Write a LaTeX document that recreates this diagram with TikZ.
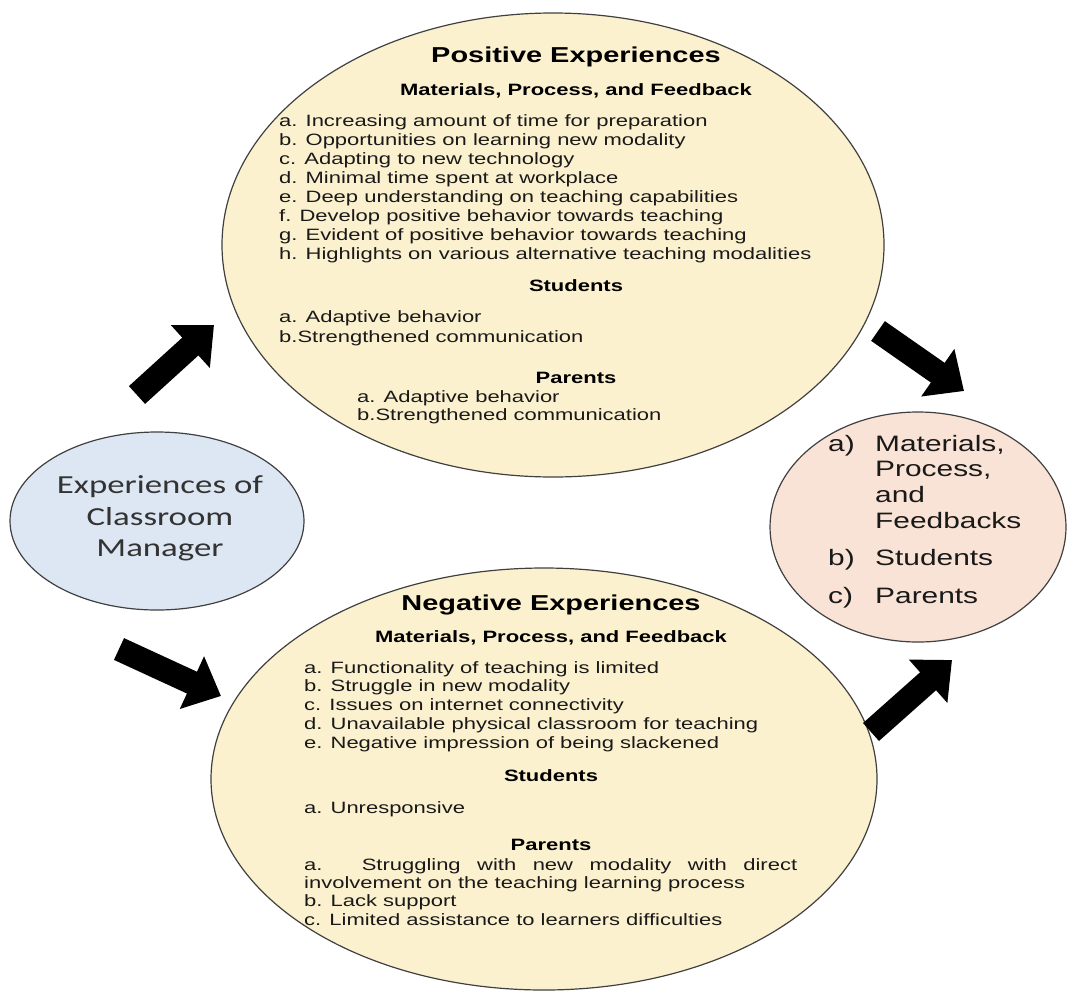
\documentclass[tikz,border=0pt]{standalone}
\usepackage{fontspec}
\setmainfont{Liberation Sans}[FakeStretch=1.34]
\newfontfamily\calfont{Carlito}[FakeStretch=1.34]
\usepackage{xcolor}
\usetikzlibrary{shapes.geometric,arrows.meta,positioning}

\definecolor{expfill}{RGB}{252,241,207}
\definecolor{mgrfill}{RGB}{221,231,243}
\definecolor{sumfill}{RGB}{249,227,214}

\begin{document}
\begin{tikzpicture}[
    x=1pt, y=-1pt,
    % Styles
    bubble/.style={
        ellipse,
        draw=black!75,
        line width=1.2pt,
        inner sep=0pt
    },
    title/.style={font=\fontsize{21.6}{26}\selectfont\bfseries, anchor=base, inner sep=0pt, text=black},
    heading/.style={font=\fontsize{16.4}{19}\selectfont\bfseries, anchor=base, inner sep=0pt, text=black},
    item/.style={font=\fontsize{16.4}{19}\selectfont, anchor=base west, inner sep=0pt, text=black!90},
    mgrline/.style={font=\calfont\fontsize{26}{31.5}\selectfont, anchor=base, inner sep=0pt, text=black!80},
    sumline/.style={font=\fontsize{22.3}{25.5}\selectfont, anchor=base west, inner sep=0pt, text=black!90},
    % Line Styles
    fat/.style={draw=black, line width=24pt, -{Triangle[length=32pt,width=56pt]}}
]
\useasboundingbox (0,0) rectangle (1067,991);

% --- Bubbles ---
\node[bubble, fill=expfill, minimum width=662pt, minimum height=464pt] (pos) at (553,245) {};
\node[bubble, fill=expfill, minimum width=666pt, minimum height=422pt] (neg) at (544,779) {};
\node[bubble, fill=mgrfill, minimum width=294pt, minimum height=178pt] (mgr) at (157,521) {};
\node[bubble, fill=sumfill, minimum width=296pt, minimum height=230pt] (sum) at (918,527) {};

% --- Arrows ---
\coordinate (a1s) at (137,395);
\coordinate (a1e) at (214,325);
\coordinate (a2s) at (878,331);
\coordinate (a2e) at (964,391);
\coordinate (a3s) at (119,649);
\coordinate (a3e) at (221,696);
\coordinate (a4s) at (871,732);
\coordinate (a4e) at (952,660);
\draw[fat] (a1s) -- (a1e);
\draw[fat] (a2s) -- (a2e);
\draw[fat] (a3s) -- (a3e);
\draw[fat] (a4s) -- (a4e);

% --- Classroom manager ---
\node[mgrline] (mgr1) at (160,493) {Experiences of};
\node[mgrline] (mgr2) at (160,525) {Classroom};
\node[mgrline] (mgr3) at (160,556) {Manager};

% --- Positive experiences ---
\node[title] (posTitle) at (576,62) {Positive Experiences};
\node[heading] (posMatHead) at (576,95) {Materials, Process, and Feedback};
\foreach \t [count=\k from 0] in {
    a. Increasing amount of time for preparation,
    b. Opportunities on learning new modality,
    c. Adapting to new technology,
    d. Minimal time spent at workplace,
    e. Deep understanding on teaching capabilities,
    f. Develop positive behavior towards teaching,
    g. Evident of positive behavior towards teaching,
    h. Highlights on various alternative teaching modalities}
    \node[item] (posMat\k) at (279,{126+19*\k}) {\t};
\node[heading] (posStuHead) at (576,291) {Students};
\node[item] (posStu1) at (279,322) {a. Adaptive behavior};
\node[item] (posStu2) at (279,342) {b.Strengthened communication};
\node[heading] (posParHead) at (576,383) {Parents};
\node[item] (posPar1) at (357,402) {a. Adaptive behavior};
\node[item] (posPar2) at (357,420) {b.Strengthened communication};

% --- Negative experiences ---
\node[title] (negTitle) at (551,610) {Negative Experiences};
\node[heading] (negMatHead) at (551,642) {Materials, Process, and Feedback};
\foreach \t [count=\k from 0] in {
    a. Functionality of teaching is limited,
    b. Struggle in new modality,
    c. Issues on internet connectivity,
    d. Unavailable physical classroom for teaching,
    e. Negative impression of being slackened}
    \node[item] (negMat\k) at (304,{673+18.8*\k}) {\t};
\node[heading] (negStuHead) at (551,781) {Students};
\node[item] (negStu1) at (304,813) {a. Unresponsive};
\node[heading] (negParHead) at (551,850) {Parents};
\node[item] (negPar1) at (304,870) {\makebox[493pt][s]{a. Struggling with new modality with direct}};
\node[item] (negPar2) at (304,888) {involvement on the teaching learning process};
\node[item] (negPar3) at (304,906) {b. Lack support};
\node[item] (negPar4) at (304,925) {c. Limited assistance to learners difficulties};

% --- Summary ---
\node[sumline] (sumA) at (828,451) {a)};
\foreach \t [count=\k from 0] in {{Materials,}, {Process,}, and, Feedbacks}
    \node[sumline] (sumA\k) at (875,{451+25.7*\k}) {\t};
\node[sumline] (sumB) at (828,565) {b)};
\node[sumline] (sumB1) at (875,565) {Students};
\node[sumline] (sumC) at (828,603) {c)};
\node[sumline] (sumC1) at (875,603) {Parents};

\end{tikzpicture}
\end{document}
